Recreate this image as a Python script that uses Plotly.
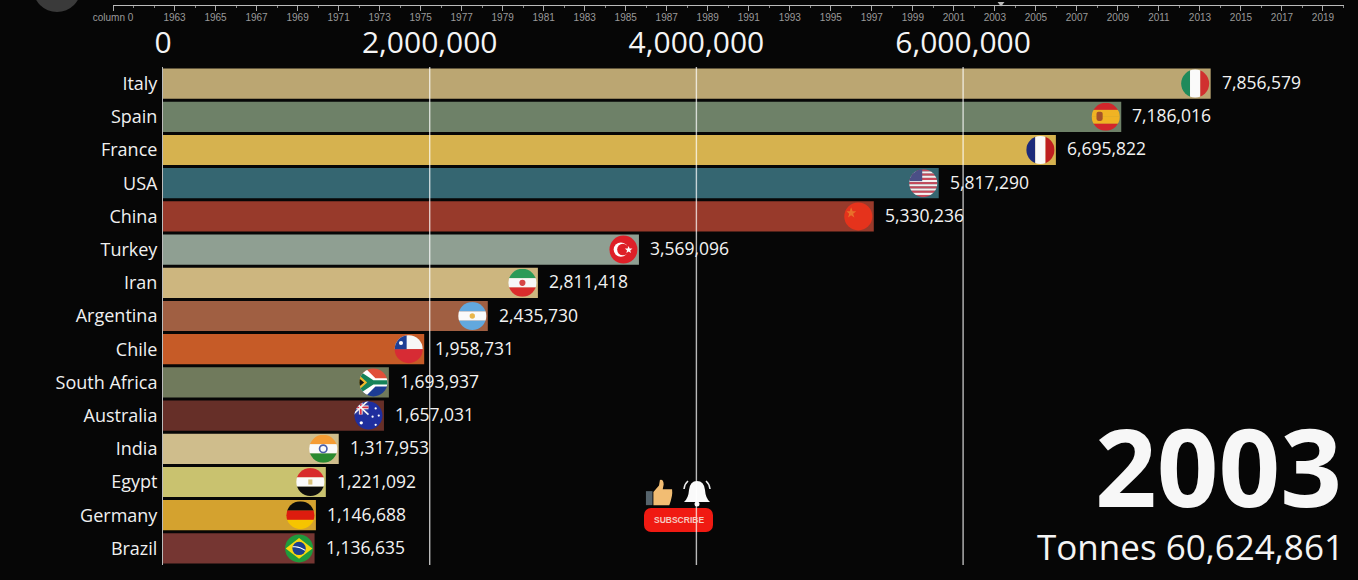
import base64
import plotly.graph_objects as go

W, H = 1358, 580

countries = ["Italy", "Spain", "France", "USA", "China", "Turkey", "Iran", "Argentina",
             "Chile", "South Africa", "Australia", "India", "Egypt", "Germany", "Brazil"]
tonnes = [7856579, 7186016, 6695822, 5817290, 5330236, 3569096, 2811418, 2435730,
          1958731, 1693937, 1657031, 1317953, 1221092, 1146688, 1136635]
bar_colors = ["#BBA672", "#6E8168", "#D6B24F", "#356671", "#983A2B", "#8F9F92", "#CDB67F", "#A05F42",
              "#C65B27", "#707A5C", "#662F28", "#CFBD8C", "#C9C26F", "#D4A22F", "#753632"]
value_ticks = [0, 2000000, 4000000, 6000000]
value_tick_labels = ["0", "2,000,000", "4,000,000", "6,000,000"]
timeline_ticks = [1960] + list(range(1963, 2020, 2))
timeline_labels = ["column 0"] + [str(y) for y in range(1963, 2020, 2)]
current_year = "2003"
total_label = "Tonnes 60,624,861"

BG = "#060606"
FONT = "Open Sans, Noto Sans, sans-serif"
PX_PER_UNIT = 133.35 / 1e6


def stripes_v(*c):
    n = len(c)
    return "".join(f'<rect x="{i*30/n}" y="0" width="{30/n+.1}" height="30" fill="{k}"/>' for i, k in enumerate(c))


def stripes_h(*c):
    n = len(c)
    return "".join(f'<rect x="0" y="{1.5+i*27/n}" width="30" height="{27/n+.1}" fill="{k}"/>' for i, k in enumerate(c))


usa_stripes = "".join(
    f'<rect x="0" y="{1.5+i*27/13}" width="30" height="{27/13+.05}" fill="{"#C8485A" if i % 2 == 0 else "#F5F0F0"}"/>'
    for i in range(13))

flags = {
    "Italy": stripes_v("#1F8A5B", "#FAFAFA", "#D0302F"),
    "Spain": stripes_h("#D2262B", "#F0B323", "#F0B323", "#D2262B") + '<rect x="6" y="10" width="6" height="9" rx="2" fill="#A5522A"/>',
    "France": stripes_v("#1B2A7A", "#FAFAFA", "#BE1E20"),
    "USA": usa_stripes + '<rect x="0" y="0" width="14" height="13" fill="#4A4F86"/>',
    "China": '<rect width="30" height="30" fill="#E5331C"/><polygon points="8,6 9.5,10 13,10 10,12.5 11.2,16 8,14 5,16 6.2,12.5 3.5,10 6.8,10" fill="#E8702A"/>',
    "Turkey": '<rect width="30" height="30" fill="#DE2028"/><circle cx="12.5" cy="15" r="7" fill="#fff"/><circle cx="14.5" cy="15" r="5.6" fill="#DE2028"/><polygon points="20,11.5 21,14 23.7,14 21.6,15.8 22.4,18.4 20,16.9 17.8,18.4 18.5,15.8 16.4,14 19.1,14" fill="#fff"/>',
    "Iran": stripes_h("#2B9A57", "#F7F7F7", "#DA2C2C") + '<circle cx="15" cy="15" r="3" fill="#D64545"/>',
    "Argentina": stripes_h("#62A8DE", "#FAFAFA", "#62A8DE") + '<circle cx="15" cy="15" r="2.6" fill="#E9B64A"/>',
    "Chile": '<rect width="30" height="15" fill="#F7F7F7"/><rect y="15" width="30" height="15" fill="#D72B34"/><rect width="13" height="15" fill="#1F3F94"/><circle cx="7.5" cy="9" r="2" fill="#fff"/>',
    "South Africa": '<rect width="30" height="15" fill="#E0503A"/><rect y="15" width="30" height="15" fill="#1C3C94"/><polygon points="0,0 6,0 17,11 30,11 30,19 17,19 6,30 0,30" fill="#fff"/><polygon points="0,3 15,13 30,13 30,17 15,17 0,27" fill="#15835A"/><polygon points="0,7 9,15 0,23" fill="#F0B82C"/><polygon points="0,10 6,15 0,20" fill="#111"/>',
    "Australia": '<rect width="30" height="30" fill="#1F2E9E"/><rect width="15" height="14" fill="#2B3A9C"/><path d="M0 7H15M7.5 0V14" stroke="#F3F3F3" stroke-width="3.6"/><path d="M0 7H15M7.5 0V14" stroke="#D93045" stroke-width="1.8"/><path d="M0 0L15 14M15 0L0 14" stroke="#F3F3F3" stroke-width="1.6"/><circle cx="8" cy="22" r="1.6" fill="#fff"/><circle cx="22" cy="8" r="1.1" fill="#fff"/><circle cx="25" cy="15" r="1.1" fill="#fff"/><circle cx="19" cy="16" r="1.1" fill="#fff"/><circle cx="22" cy="24" r="1.1" fill="#fff"/>',
    "India": stripes_h("#F59C34", "#FAFAFA", "#2A8A30") + '<circle cx="15" cy="15" r="3.6" fill="none" stroke="#4A5FA8" stroke-width="1.6"/>',
    "Egypt": stripes_h("#D82B2B", "#FAFAFA", "#0B0B0B") + '<rect x="13" y="12.5" width="4" height="5" fill="#D9C27A"/>',
    "Germany": stripes_h("#0A0A0A", "#DD1C0E", "#F6C400"),
    "Brazil": '<rect width="30" height="30" fill="#1F9B3C"/><polygon points="15,5 28,15 15,25 2,15" fill="#F6D80E"/><circle cx="15" cy="15" r="6.5" fill="#1B3F8F"/><path d="M8.8 13.5Q15 12.5 21 17" stroke="#fff" stroke-width="1" fill="none"/>',
}


def uri(svg):
    return "data:image/svg+xml;base64," + base64.b64encode(svg.encode()).decode()


def flag_uri(name):
    return uri('<svg xmlns="http://www.w3.org/2000/svg" width="120" height="120" viewBox="0 0 30 30">'
               '<defs><clipPath id="c"><circle cx="15" cy="15" r="13.6"/></clipPath></defs>'
               f'<g clip-path="url(#c)">{flags[name]}</g></svg>')


thumb = uri('<svg xmlns="http://www.w3.org/2000/svg" width="90" height="90" viewBox="0 0 30 30">'
            '<rect x="1" y="13" width="7" height="15" fill="#56646C"/>'
            '<path d="M9 14 L15 7 L16 1 Q20 0 20 6 L19 11 L29 11 Q30 18 26 28 L9 28 Z" fill="#F2BD73"/></svg>')
bell = uri('<svg xmlns="http://www.w3.org/2000/svg" width="90" height="90" viewBox="0 0 30 30">'
           '<path d="M15 3 Q22 3 23 12 Q23.5 20 28 24 L2 24 Q6.5 20 7 12 Q8 3 15 3 Z" fill="#FAFAFA"/>'
           '<circle cx="15" cy="26" r="2.5" fill="#FAFAFA"/>'
           '<path d="M6 3 Q2.5 6 2 11 M24 3 Q27.5 6 28 11" stroke="#EDEDED" stroke-width="1.6" fill="none"/></svg>')
button = uri('<svg xmlns="http://www.w3.org/2000/svg" width="276" height="96" viewBox="0 0 69 24">'
             '<rect width="69" height="24" rx="7" fill="#F01A12"/></svg>')


def fx(px):
    return px / W


def fy(px):
    return 1 - px / H


fig = go.Figure()
fig.add_trace(go.Bar(
    y=countries, x=tonnes, orientation="h",
    marker=dict(color=bar_colors, line=dict(width=0)),
    hoverinfo="skip", showlegend=False,
))
fig.add_trace(go.Scatter(
    x=[2003.3], y=[1], xaxis="x2", yaxis="y2", mode="markers", cliponaxis=False,
    marker=dict(symbol="triangle-down", size=6, color="#BBBBBB"),
    hoverinfo="skip", showlegend=False,
))

annotations = [
    dict(x=v, y=c, xref="x", yref="y", text=f"{v:,}", showarrow=False, xanchor="left", yanchor="middle",
         xshift=9, yshift=1.5, font=dict(family=FONT, size=17.5, color="#F2F2F2"))
    for c, v in zip(countries, tonnes)
]
annotations += [
    dict(x=fx(1344), y=fy(465), xref="paper", yref="paper", text=f"<b>{current_year}</b>", showarrow=False,
         xanchor="right", yanchor="middle", font=dict(family=FONT, size=108, color="#F7F7F7")),
    dict(x=fx(1346), y=fy(546), xref="paper", yref="paper", text=total_label, showarrow=False,
         xanchor="right", yanchor="middle", font=dict(family=FONT, size=35, color="#F4F4F4")),
    dict(x=fx(678.5), y=fy(520), xref="paper", yref="paper", text="<b>SUBSCRIBE</b>", showarrow=False,
         xanchor="center", yanchor="middle", font=dict(family="Liberation Sans", size=8.5, color="#F5C9C0")),
]

images = [
    dict(source=flag_uri(c), xref="x", yref="y", x=v, y=c, sizex=31 / PX_PER_UNIT, sizey=0.93,
         xanchor="right", yanchor="middle", sizing="contain", layer="above")
    for c, v in zip(countries, tonnes)
]
images += [
    dict(source=thumb, xref="paper", yref="paper", x=fx(645), y=fy(479), sizex=fx(28), sizey=28 / H,
         xanchor="left", yanchor="top", sizing="contain", layer="above"),
    dict(source=bell, xref="paper", yref="paper", x=fx(681), y=fy(478), sizex=fx(32), sizey=30 / H,
         xanchor="left", yanchor="top", sizing="contain", layer="above"),
    dict(source=button, xref="paper", yref="paper", x=fx(644), y=fy(508), sizex=fx(69), sizey=24 / H,
         xanchor="left", yanchor="top", sizing="stretch", layer="above"),
]

shapes = [
    dict(type="line", xref="x", yref="paper", x0=v, x1=v, y0=fy(565), y1=fy(67), layer="above",
         line=dict(color="rgba(255,255,255,0.72)", width=1.4))
    for v in value_ticks[1:]
]
shapes += [
    dict(type="circle", xref="paper", yref="paper", x0=fx(33), x1=fx(81), y0=fy(12), y1=fy(-36),
         fillcolor="#3A3A3A", line=dict(width=0), layer="below"),
]

fig.update_layout(
    width=W, height=H, autosize=False,
    margin=dict(l=0, r=0, t=0, b=0),
    paper_bgcolor=BG, plot_bgcolor=BG,
    showlegend=False, bargap=0.09,
    annotations=annotations, images=images, shapes=shapes,
    xaxis=dict(
        automargin=False,
        domain=[fx(163), 1], range=[0, (W - 163) / PX_PER_UNIT], side="top", anchor="y",
        tickmode="array", tickvals=value_ticks, ticktext=value_tick_labels,
        tickfont=dict(family=FONT, size=30, color="#F4F4F4"),
        showgrid=False, zeroline=False, showline=False,
        ticks="outside", ticklen=1, tickcolor=BG,
    ),
    yaxis=dict(
        automargin=False,
        domain=[fy(565), fy(67)], type="category", categoryorder="array", categoryarray=countries,
        autorange="reversed", anchor="x",
        tickfont=dict(family=FONT, size=18, color="#F0F0F0"),
        showgrid=False, zeroline=False, showline=True, linecolor="#BBBBBB", linewidth=1,
        ticks="outside", ticklen=1, tickcolor=BG,
    ),
    xaxis2=dict(
        automargin=False,
        domain=[fx(113), fx(1343.5)], range=[1960, 2020], anchor="y2", side="bottom",
        tickmode="array", tickvals=timeline_ticks, ticktext=timeline_labels,
        tickfont=dict(family="Liberation Sans", size=10, color="#9A9A9A"),
        ticks="outside", ticklen=5, tickcolor="#AAAAAA", tickwidth=1, ticklabelstandoff=-2,
        minor=dict(dtick=1, tick0=1960, ticks="outside", ticklen=2, tickcolor="#888888", tickwidth=1),
        showline=True, linecolor="#BBBBBB", linewidth=1, showgrid=False, zeroline=False,
    ),
    yaxis2=dict(domain=[fy(4.5), fy(3.5)], range=[0, 1], anchor="x2", visible=False),
)

fig.write_html(
    "out.html",
    config={"displayModeBar": False},
    post_script="document.documentElement.style.background='#060606';"
                "document.body.style.margin='0';document.body.style.background='#060606';"
                "document.body.style.overflow='hidden';",
)
